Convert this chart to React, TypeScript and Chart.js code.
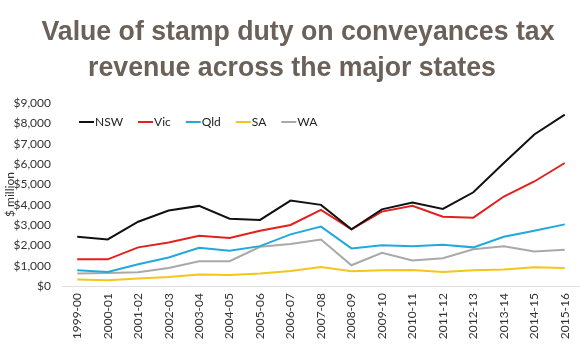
import React, { useEffect, useRef } from "react";
import { Chart, registerables } from "chart.js";

Chart.register(...registerables);

const categories = [
  "1999-00", "2000-01", "2001-02", "2002-03", "2003-04", "2004-05", "2005-06",
  "2006-07", "2007-08", "2008-09", "2009-10", "2010-11", "2011-12", "2012-13",
  "2013-14", "2014-15", "2015-16",
];

const nsw = [2420, 2290, 3160, 3710, 3940, 3310, 3250, 4200, 3990, 2790, 3770, 4100, 3790, 4610, 6050, 7450, 8430];
const vic = [1320, 1310, 1900, 2140, 2470, 2360, 2720, 3000, 3740, 2790, 3660, 3940, 3410, 3360, 4400, 5140, 6050];
const qld = [775, 690, 1070, 1400, 1880, 1730, 1960, 2540, 2920, 1850, 2000, 1950, 2030, 1900, 2420, 2720, 3030];
const sa = [315, 280, 365, 445, 560, 545, 610, 740, 940, 725, 775, 790, 690, 775, 810, 925, 890];
const wa = [610, 640, 675, 890, 1220, 1220, 1930, 2060, 2290, 1020, 1630, 1250, 1370, 1810, 1960, 1700, 1780];

const seriesNames = ["NSW", "Vic", "Qld", "SA", "WA"];
const seriesColors = ["#111111", "#e0211d", "#22a9dc", "#f4c51a", "#a9a9a9"];

const titleLines = ["Value of stamp duty on conveyances tax", "revenue across the major states"];
const yTitle = "$ million";

const FONT = "Lato, 'Open Sans', sans-serif";

const titlePlugin = {
  id: "condensedTitle",
  afterDraw(chart: any) {
    const ctx = chart.ctx;
    ctx.save();
    ctx.font = "bold 28px 'Liberation Sans', Arial, sans-serif";
    ctx.fillStyle = "#6b6159";
    ctx.textBaseline = "alphabetic";
    ctx.textAlign = "center";
    const w1 = ctx.measureText(titleLines[0]).width;
    const sx = 513 / w1;
    const baselines = [40, 76];
    const centers = [298, 292];
    titleLines.forEach((line, i) => {
      ctx.save();
      ctx.translate(centers[i], baselines[i]);
      ctx.scale(sx, 1);
      ctx.fillText(line, 0, 0);
      ctx.restore();
    });
    ctx.restore();
  },
};

const legendPlugin = {
  id: "inlineLegend",
  afterDatasetsDraw(chart: any) {
    const ctx = chart.ctx;
    ctx.save();
    ctx.font = "12px " + FONT;
    ctx.textBaseline = "middle";
    ctx.textAlign = "left";
    let x = 79;
    const y = 122;
    chart.data.datasets.forEach((ds: any) => {
      ctx.strokeStyle = ds.borderColor;
      ctx.lineWidth = 2;
      ctx.beginPath();
      ctx.moveTo(x, y);
      ctx.lineTo(x + 15, y);
      ctx.stroke();
      ctx.fillStyle = "#222222";
      ctx.fillText(ds.label, x + 16, y + 0.5);
      x += 16 + ctx.measureText(ds.label).width + 15;
    });
    ctx.restore();
  },
};

export default function App() {
  const ref = useRef<HTMLCanvasElement>(null);
  useEffect(() => {
    if (!ref.current) return;
    const values = [nsw, vic, qld, sa, wa];
    const chart = new Chart(ref.current, {
      type: "line",
      data: {
        labels: categories,
        datasets: seriesNames.map((name, i) => ({
          label: name,
          data: values[i],
          borderColor: seriesColors[i],
          backgroundColor: seriesColors[i],
          borderWidth: 2,
          pointRadius: 0,
          tension: 0,
          fill: false,
        })),
      },
      options: {
        animation: false,
        responsive: false,
        maintainAspectRatio: false,
        layout: { padding: { left: 0, right: 0, top: 103, bottom: 0 } },
        plugins: {
          title: { display: false },
          legend: { display: false },
          tooltip: { enabled: false },
        },
        scales: {
          x: {
            offset: true,
            grid: { display: false, drawTicks: false, tickLength: 0 },
            border: { display: true, color: "#e0e0e0", width: 1 },
            ticks: {
              autoSkip: false,
              minRotation: 90,
              maxRotation: 90,
              padding: 7,
              color: "#333333",
              font: { family: FONT, size: 12 },
            },
            afterFit: (s: any) => {
              s.height = 66;
              s.paddingLeft = 0;
              s.paddingRight = 0;
            },
          },
          y: {
            min: 0,
            max: 9000,
            grid: { display: false, drawTicks: false, tickLength: 0 },
            border: { display: false },
            ticks: {
              stepSize: 1000,
              padding: 11,
              color: "#333333",
              font: { family: FONT, size: 12 },
              callback: (v: any) => "$" + Number(v).toLocaleString("en-US"),
            },
            title: {
              display: true,
              text: yTitle,
              color: "#333333",
              font: { family: FONT, size: 12 },
              padding: { top: 3, bottom: 0 },
            },
            afterFit: (s: any) => {
              s.width = 62;
              s.paddingTop = 0;
              s.paddingBottom = 0;
            },
          },
        },
      },
      plugins: [titlePlugin, legendPlugin],
    });
    return () => chart.destroy();
  }, []);
  return (
    <div style={{ position: "fixed", left: 0, top: 0, width: 580, height: 352, background: "#fff" }}>
      <canvas ref={ref} width={580} height={352} style={{ width: 580, height: 352, display: "block" }} />
    </div>
  );
}
